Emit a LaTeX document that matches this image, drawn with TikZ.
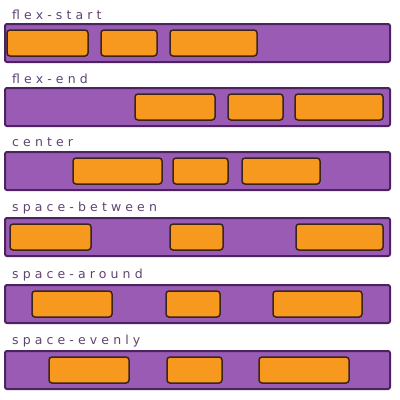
\documentclass[tikz,border=0pt]{standalone}
\usepackage{fontspec}
\newfontfamily\labfont[LetterSpace=33]{DejaVu Sans}
\definecolor{barfill}{HTML}{9A5BB5}
\definecolor{barline}{HTML}{4A2360}
\definecolor{itemfill}{HTML}{F7981F}
\definecolor{itemline}{HTML}{3B2418}
\definecolor{labcol}{HTML}{5E4470}
\tikzset{
  barbox/.style={draw=barline, fill=barfill, line width=2pt, rounded corners=2pt,
    minimum width=385pt, minimum height=38pt, inner sep=0pt},
  item/.style={draw=itemline, fill=itemfill, line width=1.5pt, rounded corners=3pt,
    minimum height=26pt, inner sep=0pt},
  lab/.style={anchor=west, inner sep=0pt, text=labcol, font=\labfont\fontsize{12.5}{13}\selectfont}
}
\begin{document}
\begin{tikzpicture}[x=1pt,y=-1pt]
\useasboundingbox (0,0) rectangle (400,400);
% row 1
\node[lab] (l1) at (12,15) {flex-start};
\node[barbox] (b1) at (197.5,43) {};
\node[item, minimum width=81pt] (r1a) at (47.5,43) {};
\node[item, minimum width=56pt] (r1b) at (129,43) {};
\node[item, minimum width=87pt] (r1c) at (213.5,43) {};
% row 2
\node[lab] (l2) at (12,78.5) {flex-end};
\node[barbox] (b2) at (197.5,107) {};
\node[item, minimum width=80pt] (r2a) at (175,107) {};
\node[item, minimum width=55pt] (r2b) at (255.5,107) {};
\node[item, minimum width=88pt] (r2c) at (339,107) {};
% row 3
\node[lab] (l3) at (12,142.5) {center};
\node[barbox] (b3) at (197.5,171) {};
\node[item, minimum width=89pt] (r3a) at (117.5,171) {};
\node[item, minimum width=55pt] (r3b) at (200.5,171) {};
\node[item, minimum width=78pt] (r3c) at (281,171) {};
% row 4
\node[lab] (l4) at (12,208.5) {space-between};
\node[barbox] (b4) at (197.5,237) {};
\node[item, minimum width=81pt] (r4a) at (50.5,237) {};
\node[item, minimum width=53pt] (r4b) at (196.5,237) {};
\node[item, minimum width=87pt] (r4c) at (339.5,237) {};
% row 5
\node[lab] (l5) at (12,275.5) {space-around};
\node[barbox] (b5) at (197.5,304) {};
\node[item, minimum width=80pt] (r5a) at (72,304) {};
\node[item, minimum width=54pt] (r5b) at (193,304) {};
\node[item, minimum width=89pt] (r5c) at (317.5,304) {};
% row 6
\node[lab] (l6) at (12,341.5) {space-evenly};
\node[barbox] (b6) at (197.5,370) {};
\node[item, minimum width=80pt] (r6a) at (89,370) {};
\node[item, minimum width=55pt] (r6b) at (194.5,370) {};
\node[item, minimum width=90pt] (r6c) at (304,370) {};
\end{tikzpicture}
\end{document}
